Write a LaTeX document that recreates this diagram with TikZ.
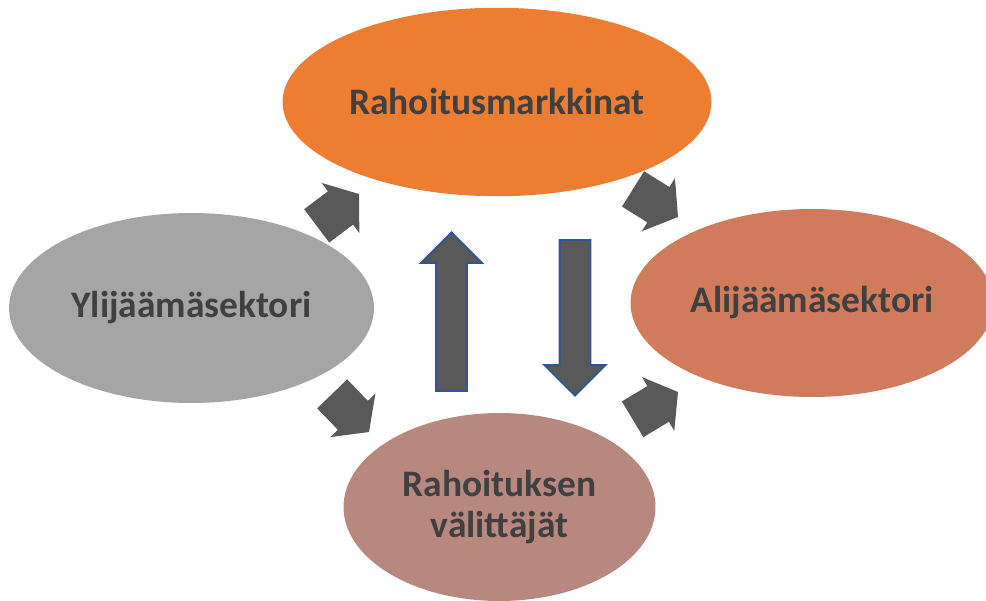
\documentclass[tikz,border=0pt]{standalone}
\usepackage{fontspec}
\setmainfont{Carlito}
\usepackage{tikz}
\usetikzlibrary{shapes.geometric,shapes.arrows}

\definecolor{markkinat}{HTML}{ED7D31}
\definecolor{ylijaama}{HTML}{A5A5A5}
\definecolor{alijaama}{HTML}{D17B5D}
\definecolor{valittaja}{HTML}{B8887F}
\definecolor{tekstigray}{HTML}{404040}
\definecolor{nuoligray}{HTML}{595959}
\definecolor{reunablue}{HTML}{2F5597}

\tikzset{
  sector/.style={ellipse, inner sep=0pt, text=tekstigray, align=center,
    font=\bfseries\fontsize{21.3}{22.8}\selectfont},
  flow/.style={single arrow, fill=nuoligray, inner xsep=0pt, inner ysep=0.41cm, outer sep=0pt,
    minimum height=1.06cm, single arrow head extend=0.21cm,
    single arrow tip angle=107, anchor=tip},
  vflow/.style={single arrow, fill=nuoligray, draw=reunablue, line width=1.1pt,
    inner xsep=0pt, inner ysep=0.29cm, outer sep=0pt,
    single arrow head extend=0.3cm, anchor=tip}
}

\begin{document}
\begin{tikzpicture}[x=0.02cm,y=-0.02cm]
    \useasboundingbox (0,0) rectangle (986,601);
    \node[sector, fill=markkinat, minimum width=8.58cm, minimum height=3.77cm]  (mark) at (497,102) {Rahoitusmarkkinat};
    \node[sector, fill=ylijaama, minimum width=7.3cm, minimum height=3.8cm]     (yli)  at (191.5,308) {Ylijäämäsektori};
    \node[sector, fill=alijaama, minimum width=7.26cm, minimum height=3.76cm]   (ali)  at (812,303) {Alijäämäsektori};
    \node[sector, fill=valittaja, minimum width=6.24cm, minimum height=3.76cm]  (val)  at (499.5,507) {Rahoituksen\\välittäjät};

    \node[flow, rotate=37]  (yli2mark) at (359,194) {};
    \node[flow, rotate=-32] (mark2ali) at (678,217) {};
    \node[flow, rotate=-46] (yli2val)  at (369,432) {};
    \node[flow, rotate=31]  (val2ali)  at (678,392) {};

    \node[vflow, minimum height=3.17cm, rotate=90]  (ylos)  at (451.5,232.5) {};
    \node[vflow, minimum height=3.11cm, rotate=-90] (alas)  at (575,395.5) {};
\end{tikzpicture}
\end{document}
